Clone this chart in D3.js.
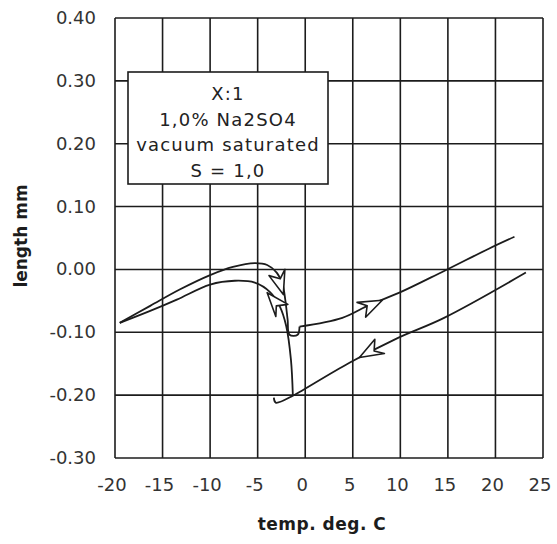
<!DOCTYPE html>
<html>
<head>
<meta charset="utf-8">
<script src="https://cdn.jsdelivr.net/npm/d3@7"></script>
<style>
  body { margin: 0; background: #fff; }
  svg { display: block; }
</style>
</head>
<body>
<svg id="chart"></svg>
<script>
// Tick values
const xTicks = [-20, -15, -10, -5, 0, 5, 10, 15, 20, 25];
const yTicks = [0.40, 0.30, 0.20, 0.10, 0.00, -0.10, -0.20, -0.30];

// Cooling line (right to left, down to supercooling point)
const coolX = [23.2, 14.6, 9.6, 4.7, -0.6, -1.3, -3.1, -3.3];
const coolY = [-0.005, -0.077, -0.110, -0.148, -0.195, -0.201, -0.212, -0.204];

// Rise after freezing, running left along the lower arc
const riseX = [-1.3, -1.5, -2.0, -2.7, -3.7, -5.3, -7.4, -10.0, -13.5, -16.3, -19.5];
const riseY = [-0.201, -0.144, -0.090, -0.058, -0.036, -0.021, -0.018, -0.024, -0.048, -0.066, -0.085];

// Return along the upper arc, down to the thaw step
const retX = [-19.5, -16.3, -13.2, -10.0, -7.6, -5.3, -4.0, -3.0, -2.4, -2.1, -1.85, -1.65, -0.8, -0.6];
const retY = [-0.085, -0.058, -0.032, -0.009, 0.004, 0.010, 0.007, -0.005, -0.023, -0.048, -0.080, -0.104, -0.104, -0.091];

// Heating line
const heatX = [-0.6, 3.9, 6.8, 9.9, 14.4, 19.3, 22.0];
const heatY = [-0.091, -0.077, -0.056, -0.037, -0.004, 0.033, 0.052];

// Arrow marks: [backX, backY, tipX, tipY]
const arrows = [
  [5.8, -0.064, 8.1, -0.049],
  [8.0, -0.122, 5.7, -0.140],
  [-2.9, -0.006, -2.3, -0.040],
  [-2.9, -0.058, -4.0, -0.037]
];

const legendLines = ["X:1", "1,0% Na2SO4", "vacuum saturated", "S = 1,0"];

const width = 557;
const height = 544;
const margin = { top: 18, right: 14, bottom: 86, left: 115 };
const ink = "#1c1c1c";
const font = "'DejaVu Sans', sans-serif";

const svg = d3.select("#chart")
  .attr("width", width)
  .attr("height", height);

const x = d3.scaleLinear().domain([-20, 25]).range([margin.left, width - margin.right]);
const y = d3.scaleLinear().domain([-0.30, 0.40]).range([height - margin.bottom, margin.top]);

// grid
svg.append("g")
  .selectAll("line")
  .data(xTicks)
  .join("line")
  .attr("x1", d => x(d)).attr("x2", d => x(d))
  .attr("y1", y(0.40)).attr("y2", y(-0.30))
  .attr("stroke", ink)
  .attr("stroke-width", 1.6);

svg.append("g")
  .selectAll("line")
  .data(yTicks)
  .join("line")
  .attr("x1", x(-20)).attr("x2", x(25))
  .attr("y1", d => y(d)).attr("y2", d => y(d))
  .attr("stroke", ink)
  .attr("stroke-width", 1.6);

// tick labels
svg.append("g")
  .selectAll("text")
  .data(xTicks)
  .join("text")
  .attr("x", d => x(d) - 3)
  .attr("y", y(-0.30) + 33)
  .attr("text-anchor", "middle")
  .style("font-family", font)
  .style("font-size", "18px")
  .style("fill", "#333")
  .text(d => d);

svg.append("g")
  .selectAll("text")
  .data(yTicks)
  .join("text")
  .attr("x", x(-20) - 19)
  .attr("y", d => y(d) + 6)
  .attr("text-anchor", "end")
  .style("font-family", font)
  .style("font-size", "18px")
  .style("fill", "#333")
  .text(d => d.toFixed(2));

// axis titles
svg.append("text")
  .attr("x", 322)
  .attr("y", 530)
  .attr("text-anchor", "middle")
  .style("font-family", font)
  .style("font-size", "17px")
  .style("font-weight", "bold")
  .style("letter-spacing", "0.5px")
  .style("fill", ink)
  .text("temp. deg. C");

svg.append("text")
  .attr("transform", "translate(27, 236) rotate(-90)")
  .attr("text-anchor", "middle")
  .style("font-family", font)
  .style("font-size", "17px")
  .style("font-weight", "bold")
  .style("fill", ink)
  .text("length mm");

// curves
const line = d3.line()
  .x(d => x(d[0]))
  .y(d => y(d[1]))
  .curve(d3.curveCatmullRom.alpha(0.5));

const series = [
  d3.zip(coolX, coolY),
  d3.zip(riseX, riseY),
  d3.zip(retX, retY),
  d3.zip(heatX, heatY)
];

svg.append("g")
  .selectAll("path")
  .data(series)
  .join("path")
  .attr("d", line)
  .attr("fill", "none")
  .attr("stroke", ink)
  .attr("stroke-width", 1.8)
  .attr("stroke-linejoin", "round");

// open arrowheads
svg.append("g")
  .selectAll("path")
  .data(arrows)
  .join("path")
  .attr("transform", d => {
    const a = Math.atan2(y(d[3]) - y(d[1]), x(d[2]) - x(d[0])) * 180 / Math.PI;
    return `translate(${x(d[2])},${y(d[3])}) rotate(${a})`;
  })
  .attr("d", "M0,0 L-24,-8 L-16,-1 L-22,9 Z")
  .attr("fill", "#fff")
  .attr("stroke", ink)
  .attr("stroke-width", 1.6)
  .attr("stroke-linejoin", "round");

// legend box
const box = svg.append("g");
box.append("rect")
  .attr("x", 128)
  .attr("y", 72)
  .attr("width", 200)
  .attr("height", 112)
  .attr("fill", "#fff")
  .attr("stroke", ink)
  .attr("stroke-width", 1.6);

box.selectAll("text")
  .data(legendLines)
  .join("text")
  .attr("x", 228)
  .attr("y", (d, i) => 100 + i * 25.5)
  .attr("text-anchor", "middle")
  .style("font-family", font)
  .style("font-size", "18px")
  .style("letter-spacing", "1.2px")
  .style("fill", "#222")
  .text(d => d);
</script>
</body>
</html>
